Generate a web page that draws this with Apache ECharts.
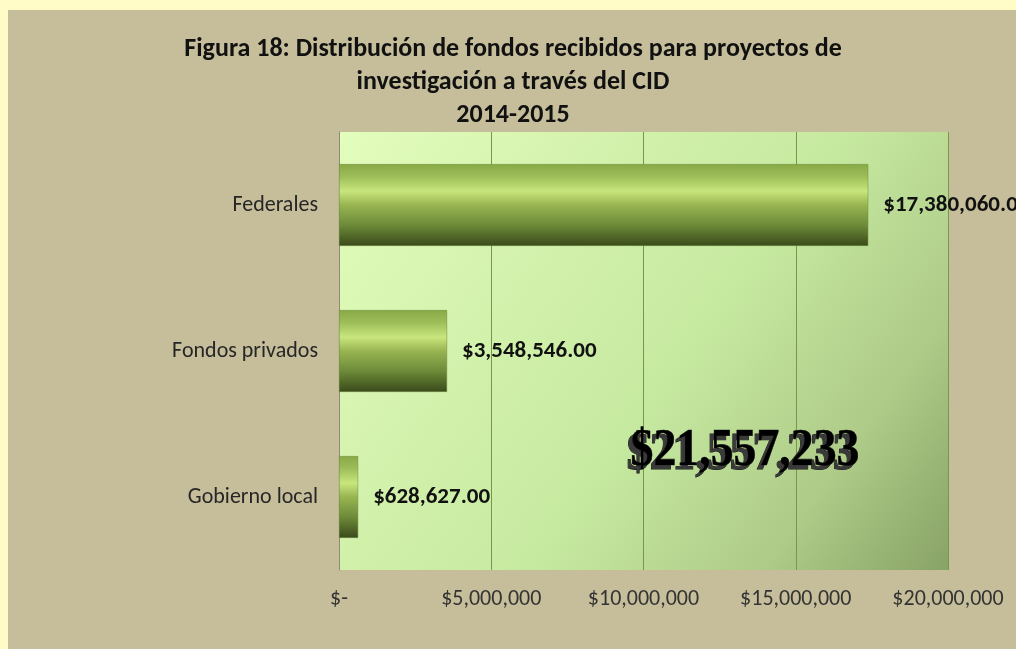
<!DOCTYPE html>
<html>
<head>
<meta charset="utf-8">
<script src="https://cdn.jsdelivr.net/npm/echarts@6/dist/echarts.min.js"></script>
<style>
  html, body { margin: 0; padding: 0; width: 1016px; height: 649px; background: #FFFCC8; overflow: hidden; }
  #chart { position: absolute; left: 8px; top: 10px; width: 1008px; height: 639px; }
</style>
</head>
<body>
<div id="chart"></div>
<script>
// datos
const categorias = ['Federales', 'Fondos privados', 'Gobierno local'];
const montos = [17380060, 3548546, 628627];
const ticksX = [0, 5000000, 10000000, 15000000, 20000000];
const titulo = ['Figura 18: Distribución de fondos recibidos para proyectos de', 'investigación a través del CID', '2014-2015'];

const FONT = 'Carlito, Lato, sans-serif';
const total = montos.reduce((a, b) => a + b, 0);  // total mostrado en grande

function dinero(v, dec) {
  if (v === 0) return '$-';
  return '$' + v.toLocaleString('en-US', { minimumFractionDigits: dec, maximumFractionDigits: dec });
}

const chart = echarts.init(document.getElementById('chart'));
chart.setOption({
  backgroundColor: '#C6BE9A',
  animation: false,
  title: {
    text: titulo.join('\n'),
    left: 500, top: 18, textAlign: 'center',
    textStyle: { fontFamily: FONT, fontSize: 26, fontWeight: 'bold', color: '#111', lineHeight: 33 }
  },
  grid: {
    left: 331, right: 68, top: 122, bottom: 79,
    show: true, borderWidth: 0,
    backgroundColor: new echarts.graphic.LinearGradient(0, 0, 1, 1, [
      { offset: 0, color: '#e3fdbc' },
      { offset: 0.55, color: '#c6e9a0' },
      { offset: 0.8, color: '#aecb88' },
      { offset: 1, color: '#88a366' }
    ])
  },
  xAxis: {
    type: 'value', min: ticksX[0], max: ticksX[ticksX.length - 1], interval: ticksX[1] - ticksX[0],
    axisLine: { show: false }, axisTick: { show: false },
    splitLine: { lineStyle: { color: '#76984a', width: 1 } },
    axisLabel: { fontFamily: FONT, fontSize: 22, color: '#333', margin: 18, formatter: v => dinero(v, 0) }
  },
  yAxis: {
    type: 'category', data: categorias, inverse: true,
    axisLine: { show: true, lineStyle: { color: '#8c8c76', width: 1 } },
    axisTick: { show: false },
    axisLabel: { fontFamily: FONT, fontSize: 22, color: '#262626', margin: 21 }
  },
  series: [{
    type: 'bar', data: montos, barCategoryGap: '44%',
    itemStyle: {
      color: new echarts.graphic.LinearGradient(0, 0, 0, 1, [
        { offset: 0, color: '#88a946' },
        { offset: 0.15, color: '#9cbd58' },
        { offset: 0.33, color: '#c8e67c' },
        { offset: 0.5, color: '#98b552' },
        { offset: 0.75, color: '#6c8a38' },
        { offset: 0.92, color: '#4a5e24' },
        { offset: 1, color: '#3a4a1c' }
      ]),
      borderColor: '#6d8a3a', borderWidth: 0.5
    },
    label: {
      show: true, position: 'right', distance: 15,
      fontFamily: FONT, fontSize: 23, fontWeight: 'bold', color: '#111',
      formatter: p => dinero(p.value, 2)
    }
  }],
  graphic: [{
    // extrusión oscura detrás del total
    type: 'text', x: 733, y: 446, scaleX: 0.88, z: 99,
    style: {
      text: dinero(total, 0), x: 0, y: 0, align: 'center', verticalAlign: 'middle',
      font: 'bold 52px "Liberation Serif", serif',
      fill: '#3a3a3a', stroke: '#151515', lineWidth: 1,
      shadowColor: 'rgba(0,0,0,0.5)', shadowOffsetX: 0, shadowOffsetY: 1, shadowBlur: 2
    }
  }, {
    type: 'text', x: 737, y: 442, scaleX: 0.88, z: 100,
    style: {
      text: dinero(total, 0), x: 0, y: 0, align: 'center', verticalAlign: 'middle',
      font: 'bold 52px "Liberation Serif", serif',
      fill: new echarts.graphic.LinearGradient(0, 0, 0, 1, [
        { offset: 0, color: '#c4c4c4' },
        { offset: 0.5, color: '#8a8a8a' },
        { offset: 1, color: '#5c5c5c' }
      ]),
      stroke: '#2a2a2a', lineWidth: 0.6
    }
  }]
});
</script>
</body>
</html>
